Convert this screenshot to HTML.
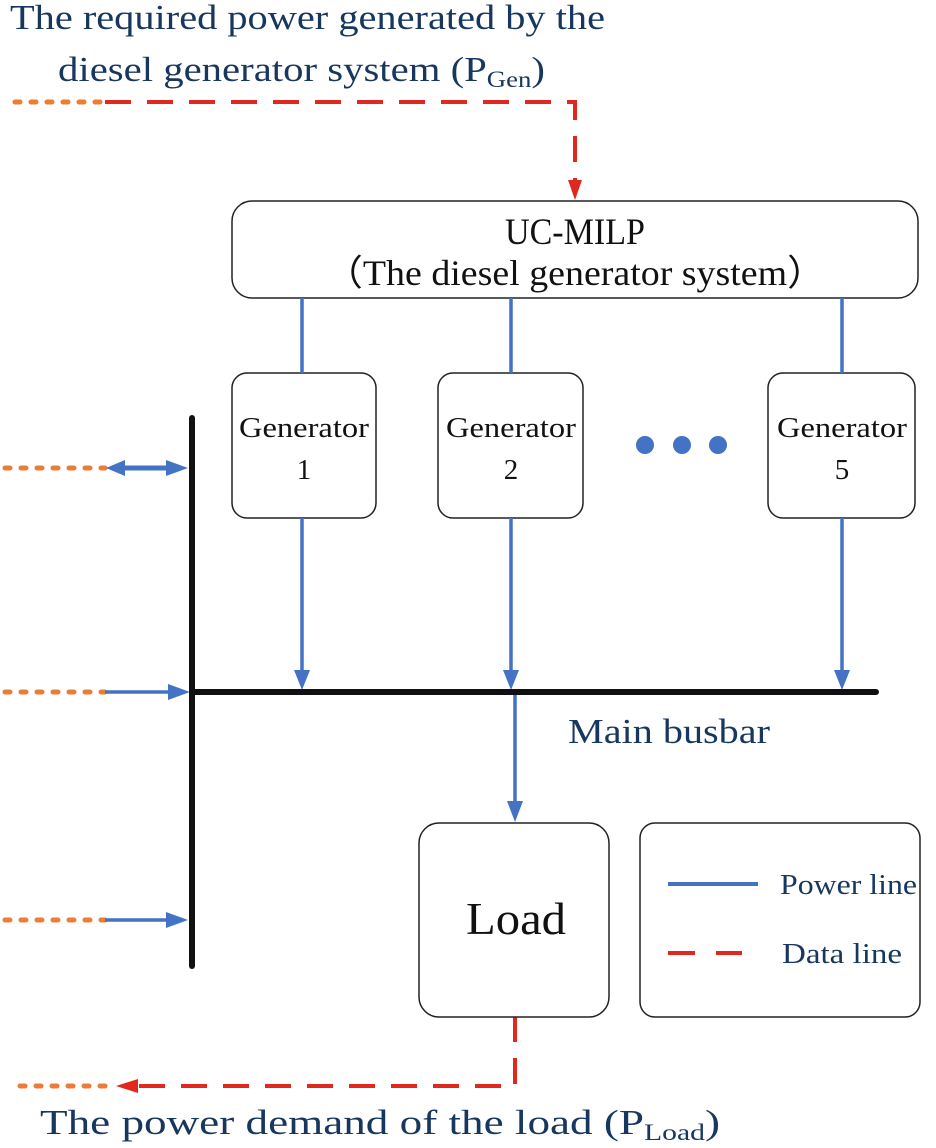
<!DOCTYPE html>
<html><head><meta charset="utf-8"><style>
html,body{margin:0;padding:0;background:#fff}
svg{display:block}
</style></head><body>
<svg width="936" height="1148" viewBox="0 0 936 1148" xmlns="http://www.w3.org/2000/svg" font-family="'Liberation Serif','Times New Roman',serif">
<g fill="#17375e" font-size="35">
<text x="10" y="29" textLength="595" lengthAdjust="spacingAndGlyphs">The required power generated by the</text>
<text x="58" y="81" textLength="487" lengthAdjust="spacingAndGlyphs">diesel generator system (P<tspan font-size="23" dy="6">Gen</tspan><tspan dy="-6">)</tspan></text>
<text x="568" y="743" textLength="202" lengthAdjust="spacingAndGlyphs">Main busbar</text>
<text x="40" y="1134" textLength="680" lengthAdjust="spacingAndGlyphs">The power demand of the load (P<tspan font-size="23" dy="6">Load</tspan><tspan dy="-6">)</tspan></text>
</g>
<g stroke-linecap="round">
<line x1="15" y1="102" x2="105" y2="102" stroke="#ed7d31" stroke-width="5" stroke-dasharray="5,11"/>
<line x1="20" y1="1086" x2="115" y2="1086" stroke="#ed7d31" stroke-width="5" stroke-dasharray="5,11"/>
<line x1="5" y1="468" x2="105" y2="468" stroke="#ed7d31" stroke-width="5" stroke-dasharray="5,11"/>
<line x1="5" y1="692" x2="105" y2="692" stroke="#ed7d31" stroke-width="5" stroke-dasharray="5,11"/>
<line x1="5" y1="920" x2="105" y2="920" stroke="#ed7d31" stroke-width="5" stroke-dasharray="5,11"/>
</g>
<g stroke="#e0281e" stroke-width="4" fill="none">
<polyline points="105,102 575,102 575,182" stroke-dasharray="26,16"/>
<polyline points="515,1016 515,1086 135,1086" stroke-dasharray="26,16"/>
</g>
<polygon points="568,180 582,180 575,200" fill="#e0281e"/>
<polygon points="116,1086 138,1079 138,1093" fill="#e0281e"/>
<g fill="#fff" stroke="#222" stroke-width="1.5">
<rect x="232" y="201" width="686" height="97" rx="20"/>
<rect x="232" y="373" width="144" height="145" rx="15"/>
<rect x="438" y="373" width="145" height="145" rx="15"/>
<rect x="768" y="373" width="147" height="145" rx="15"/>
<rect x="419" y="823" width="190" height="194" rx="20"/>
<rect x="640" y="823" width="280" height="194" rx="15"/>
</g>
<g stroke="#e0281e" stroke-width="4">
<line x1="668" y1="953" x2="695" y2="953"/><line x1="716" y1="953" x2="742" y2="953"/>
</g>
<g fill="#111" text-anchor="middle">
<text x="575" y="244" font-size="37" textLength="140" lengthAdjust="spacingAndGlyphs">UC-MILP</text>
<text x="575" y="285" font-size="36" textLength="500" lengthAdjust="spacingAndGlyphs">（The diesel generator system）</text>
<text x="304" y="437" font-size="29" textLength="130" lengthAdjust="spacingAndGlyphs">Generator</text><text x="304" y="479" font-size="29">1</text>
<text x="511" y="437" font-size="29" textLength="130" lengthAdjust="spacingAndGlyphs">Generator</text><text x="511" y="479" font-size="29">2</text>
<text x="842" y="437" font-size="29" textLength="130" lengthAdjust="spacingAndGlyphs">Generator</text><text x="842" y="479" font-size="29">5</text>
<text x="516" y="934" font-size="46" textLength="100" lengthAdjust="spacingAndGlyphs">Load</text>
</g>
<g fill="#17375e" font-size="28">
<text x="780" y="894" textLength="137" lengthAdjust="spacingAndGlyphs">Power line</text>
<text x="782" y="963" textLength="120" lengthAdjust="spacingAndGlyphs">Data line</text>
</g>
<g stroke="#4472c4" stroke-width="3.5">
<line x1="302" y1="298" x2="302" y2="373"/><line x1="511" y1="298" x2="511" y2="373"/><line x1="842" y1="298" x2="842" y2="373"/>
<line x1="302" y1="518" x2="302" y2="672"/><line x1="511" y1="518" x2="511" y2="672"/><line x1="842" y1="518" x2="842" y2="672"/>
<line x1="515" y1="692" x2="515" y2="803"/>
<line x1="120" y1="468" x2="172" y2="468" stroke-width="5"/>
<line x1="105" y1="692" x2="172" y2="692"/>
<line x1="105" y1="920" x2="172" y2="920"/>
<line x1="668" y1="884" x2="758" y2="884" stroke-width="4"/>
</g>
<g fill="#4472c4">
<polygon points="294,670 310,670 302,690"/>
<polygon points="503,670 519,670 511,690"/>
<polygon points="834,670 850,670 842,690"/>
<polygon points="507,801 523,801 515,822"/>
<polygon points="166,460 166,476 188,468"/>
<polygon points="125,460 125,476 106,468"/>
<polygon points="168,684 168,700 190,692"/>
<polygon points="166,912 166,928 188,920"/>
<circle cx="645" cy="445" r="9"/><circle cx="682" cy="445" r="9"/><circle cx="718" cy="445" r="9"/>
</g>
<g stroke="#111" stroke-width="6" stroke-linecap="round">
<line x1="192" y1="418" x2="192" y2="966"/>
<line x1="192" y1="692" x2="876" y2="692"/>
</g>
</svg>
</body></html>
